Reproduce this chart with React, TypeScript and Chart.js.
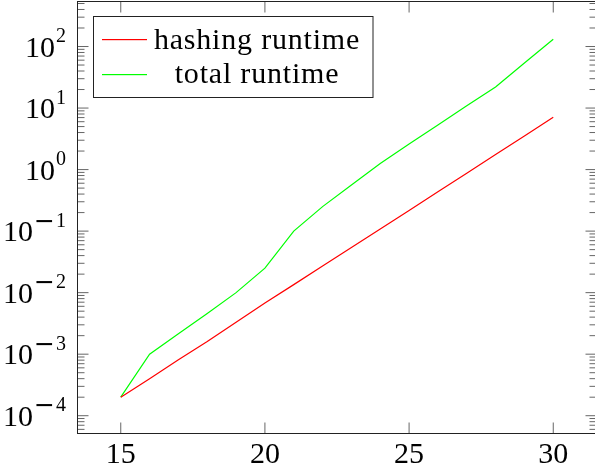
import { useEffect, useRef } from "react";
import { Chart, registerables } from "chart.js";

Chart.register(...registerables);

// ---- data ----
const nValues = [15, 16, 17, 18, 19, 20, 21, 22, 23, 24, 25, 26, 27, 28, 29, 30];
const hashingRuntime = [
  2.0e-4, 4.0e-4, 8.1e-4, 1.6e-3, 3.3e-3, 6.8e-3, 1.35e-2, 2.7e-2, 5.4e-2, 0.108, 0.216, 0.435, 0.87,
  1.76, 3.5, 7.1,
];
const totalRuntime = [
  2.0e-4, 1.0e-3, 2.15e-3, 4.6e-3, 1.0e-2, 2.5e-2, 0.1, 0.25, 0.56, 1.26, 2.6, 5.3, 10.9, 22, 54, 131,
];
const seriesLabels = ["hashing runtime", "total runtime"];
const seriesColors = ["rgb(255,0,0)", "rgb(0,255,0)"];
const xTickValues = [15, 20, 25, 30];
const yTickExponents = [-4, -3, -2, -1, 0, 1, 2];
const xMin = 13.5;
const xMax = 31.5;
const yMin = 5.14e-5;
const yMax = 539;

const SERIF = "'Liberation Serif', 'Times New Roman', serif";
const BASE_FONT = `30px ${SERIF}`;
const EXP_FONT = `20px ${SERIF}`;
const MINUS_FONT = "25px 'DejaVu Sans', sans-serif";

const pgfPlugin = {
  id: "pgfLook",
  afterDraw(chart: any) {
    const ctx: CanvasRenderingContext2D = chart.ctx;
    const { left, right, top, bottom } = chart.chartArea;
    const xs = chart.scales.x;
    const ys = chart.scales.y;
    ctx.save();

    // ticks
    ctx.strokeStyle = "#666";
    ctx.lineWidth = 1;
    const majorLen = 11;
    const minorLen = 7;
    ctx.beginPath();
    for (const v of xTickValues) {
      const px = xs.getPixelForValue(v);
      ctx.moveTo(px, bottom);
      ctx.lineTo(px, bottom - majorLen);
      ctx.moveTo(px, top);
      ctx.lineTo(px, top + majorLen);
    }
    for (const e of yTickExponents) {
      const py = ys.getPixelForValue(Math.pow(10, e));
      ctx.moveTo(left, py);
      ctx.lineTo(left + majorLen, py);
      ctx.moveTo(right, py);
      ctx.lineTo(right - majorLen, py);
    }
    const dLo = Math.floor(Math.log10(yMin));
    const dHi = Math.ceil(Math.log10(yMax));
    for (let d = dLo; d <= dHi; d++) {
      for (let k = 2; k <= 9; k++) {
        const v = k * Math.pow(10, d);
        if (v <= yMin || v >= yMax) continue;
        const py = ys.getPixelForValue(v);
        ctx.moveTo(left, py);
        ctx.lineTo(left + minorLen, py);
        ctx.moveTo(right, py);
        ctx.lineTo(right - minorLen, py);
      }
    }
    ctx.stroke();

    // frame
    ctx.strokeStyle = "#222";
    ctx.lineWidth = 1;
    ctx.strokeRect(left, top, right - left, bottom - top);

    // x tick labels
    ctx.fillStyle = "#000";
    ctx.font = BASE_FONT;
    ctx.textAlign = "center";
    ctx.textBaseline = "alphabetic";
    for (const v of xTickValues) {
      ctx.fillText(String(v), xs.getPixelForValue(v), 463);
    }

    // y tick labels 10^e
    const labelRight = 66;
    for (const e of yTickExponents) {
      const py = ys.getPixelForValue(Math.pow(10, e));
      ctx.textAlign = "left";
      ctx.font = BASE_FONT;
      const wb = ctx.measureText("10").width;
      ctx.font = EXP_FONT;
      const digits = String(Math.abs(e));
      const wd = ctx.measureText(digits).width;
      let wm = 0;
      if (e < 0) {
        ctx.font = MINUS_FONT;
        wm = ctx.measureText("\u2212").width + 1;
      }
      const gap = 1;
      const total = wb + gap + wm + wd;
      let x = labelRight - total;
      ctx.font = BASE_FONT;
      ctx.fillText("10", x, py + 10);
      x += wb + gap;
      if (e < 0) {
        ctx.font = MINUS_FONT;
        ctx.fillText("\u2212", x, py - 2.5);
        x += wm;
      }
      ctx.font = EXP_FONT;
      ctx.fillText(digits, x, py - 4.5);
    }

    // legend
    ctx.fillStyle = "#fff";
    ctx.fillRect(93.5, 16.5, 279.5, 81);
    ctx.strokeStyle = "#222";
    ctx.lineWidth = 1;
    ctx.strokeRect(93.5, 16.5, 279.5, 81);
    const rows = [
      { lineY: 39, baseY: 48.5 },
      { lineY: 74, baseY: 83 },
    ];
    for (let i = 0; i < seriesLabels.length; i++) {
      const r = rows[i];
      ctx.fillStyle = seriesColors[i];
      ctx.fillRect(102, r.lineY, 45, 1.2);
    }
    ctx.fillStyle = "#000";
    ctx.font = BASE_FONT;
    ctx.textAlign = "center";
    (ctx as any).letterSpacing = "0.8px";
    for (let i = 0; i < seriesLabels.length; i++) {
      ctx.fillText(seriesLabels[i], 257, rows[i].baseY);
    }
    (ctx as any).letterSpacing = "0px";

    ctx.restore();
  },
};

export default function App() {
  const canvasRef = useRef<HTMLCanvasElement | null>(null);

  useEffect(() => {
    const canvas = canvasRef.current;
    if (!canvas) return;
    let chart: Chart | null = null;
    let cancelled = false;

    const build = () => {
      if (cancelled) return;
      chart = new Chart(canvas, {
        type: "line",
        data: {
          datasets: [
            {
              label: seriesLabels[0],
              data: nValues.map((n, i) => ({ x: n, y: hashingRuntime[i] })),
              borderColor: seriesColors[0],
              backgroundColor: seriesColors[0],
              borderWidth: 1.2,
              pointRadius: 0,
              tension: 0,
              fill: false,
            },
            {
              label: seriesLabels[1],
              data: nValues.map((n, i) => ({ x: n, y: totalRuntime[i] })),
              borderColor: seriesColors[1],
              backgroundColor: seriesColors[1],
              borderWidth: 1.2,
              pointRadius: 0,
              tension: 0,
              fill: false,
            },
          ],
        },
        options: {
          animation: false,
          responsive: false,
          devicePixelRatio: 1,
          layout: { padding: { left: 77.5, top: 1.5, right: 3.5, bottom: 36.5 } },
          plugins: {
            legend: { display: false },
            tooltip: { enabled: false },
          },
          scales: {
            x: { type: "linear", min: xMin, max: xMax, display: false },
            y: { type: "logarithmic", min: yMin, max: yMax, display: false },
          },
        },
        plugins: [pgfPlugin],
      });
    };

    const fonts: any = (document as any).fonts;
    if (fonts && fonts.load) {
      Promise.all([fonts.load(BASE_FONT), fonts.load(EXP_FONT), fonts.load(MINUS_FONT)])
        .catch(() => null)
        .then(() => build());
    } else {
      build();
    }

    return () => {
      cancelled = true;
      if (chart) chart.destroy();
    };
  }, []);

  return (
    <div
      style={{
        position: "fixed",
        left: 0,
        top: 0,
        width: 595,
        height: 470,
        overflow: "hidden",
        background: "#fff",
      }}
    >
      <canvas ref={canvasRef} width={600} height={470} style={{ display: "block" }} />
    </div>
  );
}
